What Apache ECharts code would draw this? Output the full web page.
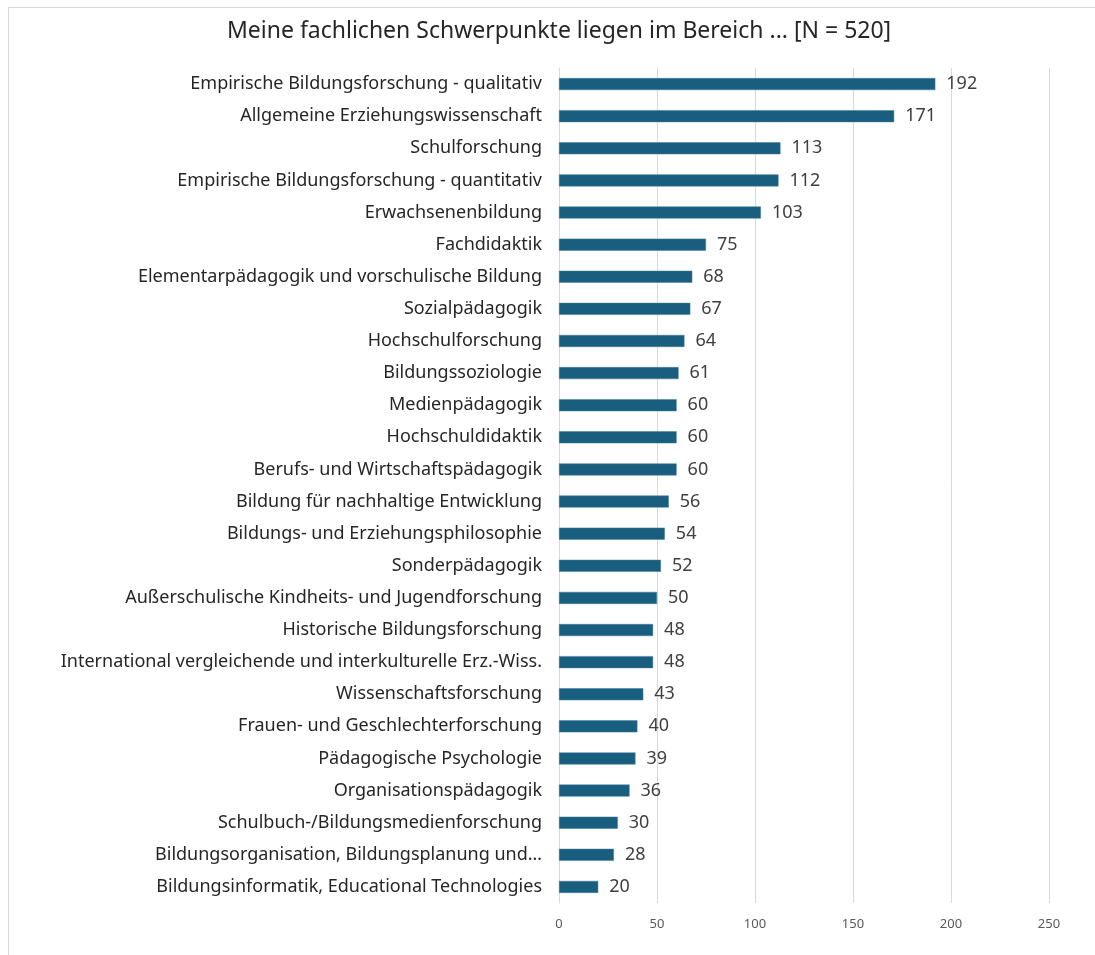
<!DOCTYPE html>
<html>
<head>
<meta charset="utf-8">
<script src="https://cdn.jsdelivr.net/npm/echarts@6/dist/echarts.min.js"></script>
<style>
  html, body { margin: 0; padding: 0; background: #fff; }
  #frame { position: absolute; left: 8px; top: 7px; width: 1100px; height: 960px; border: 1px solid #d9d9d9; box-sizing: border-box; }
  #main { position: absolute; left: 0; top: 0; width: 1095px; height: 955px; }
</style>
</head>
<body>
<div id="frame"></div>
<div id="main"></div>
<script>
// categories from top to bottom as in the picture
var categories = [
  'Empirische Bildungsforschung - qualitativ',
  'Allgemeine Erziehungswissenschaft',
  'Schulforschung',
  'Empirische Bildungsforschung - quantitativ',
  'Erwachsenenbildung',
  'Fachdidaktik',
  'Elementarpädagogik und vorschulische Bildung',
  'Sozialpädagogik',
  'Hochschulforschung',
  'Bildungssoziologie',
  'Medienpädagogik',
  'Hochschuldidaktik',
  'Berufs- und Wirtschaftspädagogik',
  'Bildung für nachhaltige Entwicklung',
  'Bildungs- und Erziehungsphilosophie',
  'Sonderpädagogik',
  'Außerschulische Kindheits- und Jugendforschung',
  'Historische Bildungsforschung',
  'International vergleichende und interkulturelle Erz.-Wiss.',
  'Wissenschaftsforschung',
  'Frauen- und Geschlechterforschung',
  'Pädagogische Psychologie',
  'Organisationspädagogik',
  'Schulbuch-/Bildungsmedienforschung',
  'Bildungsorganisation, Bildungsplanung und…',
  'Bildungsinformatik, Educational Technologies'
]
var counts = [192, 171, 113, 112, 103, 75, 68, 67, 64, 61, 60, 60, 60, 56, 54, 52, 50, 48, 48, 43, 40, 39, 36, 30, 28, 20]
var xTicks = [0, 50, 100, 150, 200, 250]

var font = '"Noto Sans", "DejaVu Sans", sans-serif'
var myChart = echarts.init(document.getElementById('main'))

var option = {
  animation: false,
  textStyle: {fontFamily: font},
  title: {
    text: 'Meine fachlichen Schwerpunkte liegen im Bereich ... [N = 520]',
    left: 222,
    top: 15,
    textStyle: {fontFamily: font, fontSize: 23, fontWeight: 'normal', color: '#262626'}
  },
  grid: {left: 559, right: 46, top: 68, bottom: 52, containLabel: false},
  xAxis: {
    type: 'value',
    min: xTicks[0],
    max: xTicks[xTicks.length - 1],
    interval: 50,
    axisLine: {show: false},
    axisTick: {show: false},
    axisLabel: {color: '#595959', fontSize: 13, margin: 15, fontFamily: font},
    splitLine: {lineStyle: {color: '#d9d9d9', width: 1}}
  },
  yAxis: {
    type: 'category',
    data: categories,
    inverse: true,
    axisLine: {show: true, lineStyle: {color: '#d9d9d9'}},
    axisTick: {show: false},
    axisLabel: {color: '#262626', fontSize: 18, margin: 17, fontFamily: font}
  },
  series: [
    {
      type: 'bar',
      data: counts,
      barWidth: 12,
      itemStyle: {color: '#1a5e7f', borderColor: '#3f7e9b', borderWidth: 0.5},
      label: {
        show: true,
        position: 'right',
        distance: 11,
        color: '#404040',
        fontSize: 18,
        fontFamily: font
      }
    }
  ]
}

myChart.setOption(option)
</script>
</body>
</html>
